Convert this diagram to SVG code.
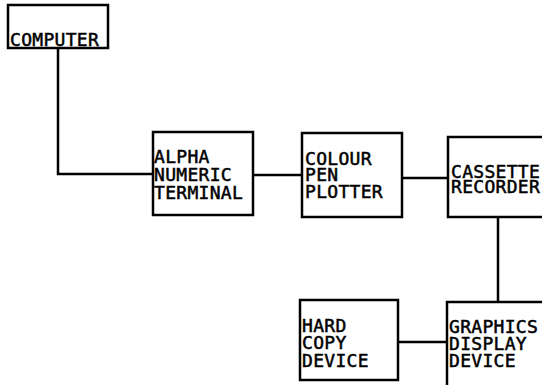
<svg xmlns="http://www.w3.org/2000/svg" width="542" height="385" viewBox="0 0 542 385">
<style>
.box{fill:#fff;stroke:#000;stroke-width:2.5}
.ln{fill:none;stroke:#000;stroke-width:2.5}
text{font-family:"DejaVu Sans Mono","Liberation Mono",monospace;font-size:18px;fill:#000;stroke:#000;stroke-width:0.5;letter-spacing:0.3px}
</style>
<rect width="542" height="385" fill="#fff"/>
<g id="connectors">
<polyline class="ln" points="58,48 58,174 153,174"/>
<line class="ln" x1="253" y1="175" x2="302" y2="175"/>
<line class="ln" x1="402" y1="178" x2="448" y2="178"/>
<line class="ln" x1="498" y1="217" x2="498" y2="302"/>
<line class="ln" x1="398" y1="342" x2="447" y2="342"/>
</g>
<g id="computer">
<rect class="box" x="8" y="5" width="100" height="43"/>
<text x="10" y="46">COMPUTER</text>
</g>
<g id="alpha">
<rect class="box" x="153" y="132" width="100" height="83"/>
<text x="154" y="163">ALPHA</text>
<text x="154" y="181">NUMERIC</text>
<text x="154" y="199">TERMINAL</text>
</g>
<g id="colour">
<rect class="box" x="302" y="133" width="100" height="84"/>
<text x="305" y="165">COLOUR</text>
<text x="305" y="181">PEN</text>
<text x="305" y="198">PLOTTER</text>
</g>
<g id="cassette">
<rect class="box" x="448" y="137" width="110" height="80"/>
<text x="451" y="178">CASSETTE</text>
<text x="451" y="193">RECORDER</text>
</g>
<g id="hardcopy">
<rect class="box" x="300" y="300" width="98" height="80"/>
<text x="302" y="332">HARD</text>
<text x="302" y="349">COPY</text>
<text x="302" y="367">DEVICE</text>
</g>
<g id="graphics">
<rect class="box" x="447" y="302" width="110" height="90"/>
<text x="449" y="333">GRAPHICS</text>
<text x="449" y="350">DISPLAY</text>
<text x="449" y="367">DEVICE</text>
</g>
</svg>
